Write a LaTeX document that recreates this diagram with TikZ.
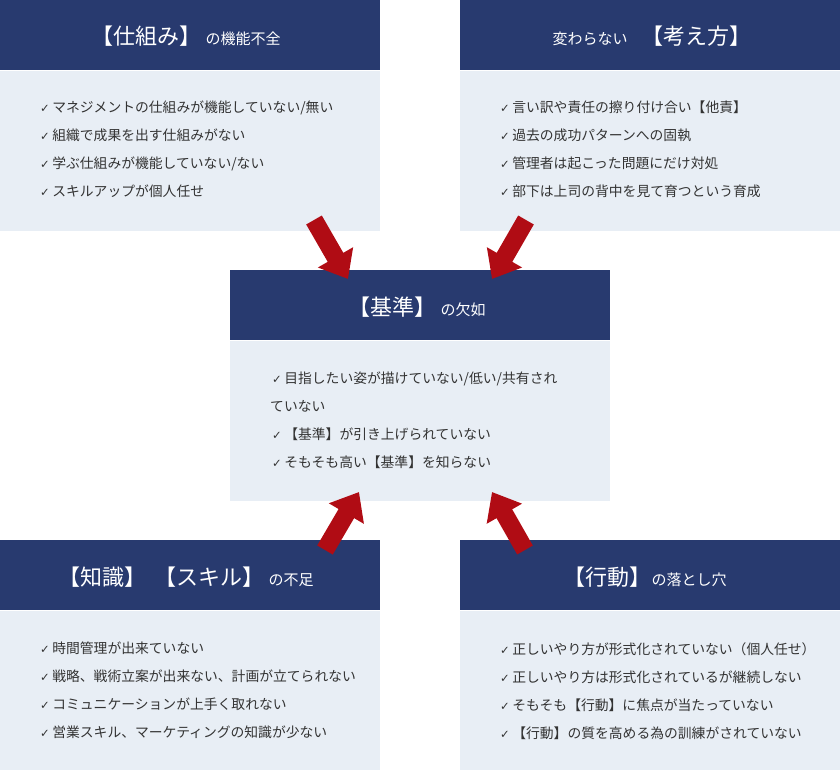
\documentclass[tikz,border=0pt]{standalone}
\usepackage{fontspec}
\setmainfont{Noto Sans CJK JP}
\newfontfamily\checkfont{DejaVu Sans}
\usetikzlibrary{arrows.meta,positioning}
\definecolor{navy}{HTML}{283A6F}
\definecolor{pale}{HTML}{E8EEF5}
\definecolor{alarm}{HTML}{B00C14}
\definecolor{ink}{HTML}{333333}
\newcommand{\chk}{{\checkfont\fontsize{11.5}{11.5}\selectfont ✓}\hspace{2.5pt}}
\newcommand{\bigpart}[1]{{\fontsize{22}{22}\selectfont #1}}
\newcommand{\smallpart}[1]{{\fontsize{15}{15}\selectfont #1}}

\begin{document}
\begin{tikzpicture}[
  x=1pt, y=-1pt,
  headbox/.style={fill=navy, minimum width=380pt, minimum height=70pt, inner sep=0pt, anchor=north west},
  bodybox/.style={fill=pale, minimum width=380pt, minimum height=160pt, inner sep=0pt},
  headtext/.style={text=white, inner sep=0pt, anchor=base},
  list/.style={text=ink, inner sep=0pt, anchor=north west, align=left,
    font=\fontsize{13.8}{28}\selectfont},
  pointer/.style={alarm, line width=18pt, -{Triangle[length=25pt,width=39pt]}}]

\useasboundingbox (0,0) rectangle (840,770);

% ---- the five boxes --------------------------------------------------
\node[headbox] (tlhead) at (0,0) {};
\node[bodybox, below=0pt of tlhead] (tlbody) {};
\node[headbox] (trhead) at (460,0) {};
\node[bodybox, below=0pt of trhead] (trbody) {};
\node[headbox] (ctrhead) at (230,270) {};
\node[bodybox, below=0pt of ctrhead] (ctrbody) {};
\node[headbox] (blhead) at (0,540) {};
\node[bodybox, below=0pt of blhead] (blbody) {};
\node[headbox] (brhead) at (460,540) {};
\node[bodybox, below=0pt of brhead] (brbody) {};

% ---- red arrows into the centre --------------------------------------
\coordinate (tlfoot) at (314,220);
\coordinate (trfoot) at (526,220);
\coordinate (blfoot) at (325,550);
\coordinate (brfoot) at (525,550);
\coordinate (ctrtipl) at (348,279);
\coordinate (ctrtipr) at (492,279);
\coordinate (ctrbotl) at (359,492);
\coordinate (ctrbotr) at (492,492);
\draw[pointer] (tlfoot) -- (ctrtipl);
\draw[pointer] (trfoot) -- (ctrtipr);
\draw[pointer] (blfoot) -- (ctrbotl);
\draw[pointer] (brfoot) -- (ctrbotr);

% ---- headings ----------------------------------------------------------
\node[headtext] (tltitle) at (186,45)
  {\bigpart{【仕組み】}\hspace{4pt}\smallpart{の機能不全}};
\node[headtext] (trtitle) at (652,45)
  {\smallpart{変わらない}\hspace{14pt}\bigpart{【考え方】}};
\node[headtext] (ctrtitle) at (417,315)
  {\bigpart{【基準】}\hspace{4pt}\smallpart{の欠如}};
\node[headtext] (bltitle) at (186,585)
  {\bigpart{【知識】}\hspace{8pt}\bigpart{【スキル】}\hspace{4pt}\smallpart{の不足}};
\node[headtext] (brtitle) at (645,585)
  {\bigpart{【行動】}\smallpart{の落とし穴}};

% ---- check lists -------------------------------------------------------
\node[list] (tllist) at (40,101)
  {\chk マネジメントの仕組みが機能していない/無い\\
   \chk 組織で成果を出す仕組みがない\\
   \chk 学ぶ仕組みが機能していない/ない\\
   \chk スキルアップが個人任せ};
\node[list] (trlist) at (500,101)
  {\chk 言い訳や責任の擦り付け合い【他責】\\
   \chk 過去の成功パターンへの固執\\
   \chk 管理者は起こった問題にだけ対処\\
   \chk 部下は上司の背中を見て育つという育成};
\node[list] (ctrlist) at (270,372)
  {\hspace{2pt}\chk 目指したい姿が描けていない/低い/共有され\\
   ていない\\
   \hspace{2pt}\chk 【基準】が引き上げられていない\\
   \hspace{2pt}\chk そもそも高い【基準】を知らない};
\node[list] (bllist) at (40,642)
  {\chk 時間管理が出来ていない\\
   \chk 戦略、戦術立案が出来ない、計画が立てられない\\
   \chk コミュニケーションが上手く取れない\\
   \chk 営業スキル、マーケティングの知識が少ない};
\node[list] (brlist) at (500,642)
  {\chk 正しいやり方が形式化されていない（個人任せ）\\
   \chk 正しいやり方は形式化されているが継続しない\\
   \chk そもそも【行動】に焦点が当たっていない\\
   \chk 【行動】の質を高める為の訓練がされていない};

\end{tikzpicture}
\end{document}
